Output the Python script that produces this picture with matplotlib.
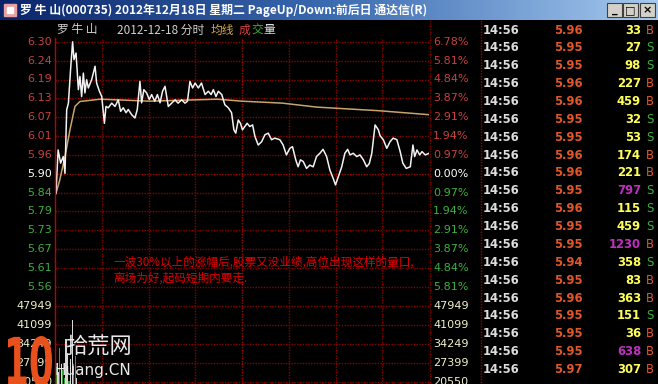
import matplotlib
matplotlib.use('Agg')
import numpy as np
import matplotlib.pyplot as plt
from matplotlib.patches import Rectangle, PathPatch
from matplotlib.textpath import TextPath
from matplotlib.font_manager import FontProperties
from matplotlib.transforms import Affine2D

CJK = ['Noto Sans CJK SC', 'DejaVu Sans']

# --- data ---
prev_close = 5.90
pct_step = 0.9686  # percent per grid row

price_min = [0.6, 2, 3.6, 5.3, 6.4, 7.5, 8.6, 10, 11.3, 12.2, 13.5, 15, 16, 17.1, 18.2, 19.2,
             20.3, 21.4, 23.5, 25.7, 26.7, 28.5, 30, 31.7, 32.7, 34.2, 36.4, 38.5, 40.6, 42.1,
             43.8, 45.6, 47, 49.2, 51.3, 52.8, 54.5, 55.6, 57, 58.8, 60.5, 62, 64, 65.7, 67.4,
             69, 70.6, 72.7, 74.9, 77, 79, 81.3, 83.4, 85, 86.6, 88.3, 89.9, 92, 94, 96.3, 98.4,
             100.2, 101.6, 103.3, 104.8, 107, 109, 111.2, 113.3, 114.8, 116, 117.6, 119, 120.3,
             121.8, 123.3, 125, 126.8, 128.3, 130.4, 132.6, 134.7, 136.8, 139, 141, 144.3, 146.4,
             148.5, 150.7, 152.4, 154.5, 156, 157.5, 159.3, 161.4, 163.5, 165.7, 167.8, 170, 172,
             174.3, 176.4, 178.5, 180, 181.8, 184, 186, 187.8, 189.3, 191.4, 193.6, 195.7, 197.9,
             200, 201.7, 203.3, 205.4, 207.5, 208.6, 210.7, 212.9, 215, 217, 219.4, 221.5, 223.2,
             225.4, 228, 229.7, 230.8, 232.3, 234, 235.5, 237.6, 240]
price_val = [5.84, 5.972, 5.932, 5.952, 5.901, 6.094, 6.114, 6.216, 6.30, 6.246, 6.266, 6.155,
             6.195, 6.134, 6.205, 6.145, 6.185, 6.16, 6.185, 6.226, 6.175, 6.15, 6.134, 6.053,
             6.104, 6.10, 6.114, 6.104, 6.124, 6.089, 6.10, 6.085, 6.095, 6.079, 6.069, 6.095,
             6.18, 6.115, 6.155, 6.145, 6.125, 6.14, 6.12, 6.14, 6.115, 6.15, 6.165, 6.104, 6.114,
             6.124, 6.114, 6.124, 6.114, 6.12, 6.18, 6.16, 6.175, 6.16, 6.175, 6.14, 6.15, 6.14,
             6.155, 6.134, 6.15, 6.14, 6.109, 6.10, 6.085, 6.033, 6.023, 6.063, 6.053, 6.033,
             6.043, 6.053, 6.043, 6.048, 6.013, 5.987, 5.997, 6.018, 6.023, 6.003, 6.008, 6.003,
             5.987, 5.957, 5.977, 5.982, 5.942, 5.921, 5.942, 5.937, 5.916, 5.926, 5.921, 5.952,
             5.962, 5.974, 5.952, 5.911, 5.886, 5.866, 5.891, 5.921, 5.962, 5.974, 5.957, 5.962,
             5.952, 5.957, 5.942, 5.921, 5.931, 5.962, 6.048, 6.033, 6.015, 6.003, 5.977, 5.997,
             6.008, 6.003, 5.967, 5.932, 5.916, 5.921, 5.987, 5.952, 5.972, 5.957, 5.967, 5.957,
             5.962]

avg_min = [0.6, 3, 6.4, 9.6, 12.8, 16, 29, 61, 104, 120, 146, 168, 208, 240]
avg_val = [5.84, 5.88, 5.952, 6.033, 6.104, 6.119, 6.126, 6.12, 6.126, 6.12, 6.114, 6.102,
           6.091, 6.079]

vol_ticks = [47949, 41099, 34249, 27399, 20550]
vol_min = [0, 1, 2, 3, 4, 5, 6, 7, 8, 9, 10, 11, 12, 13, 14]
vol_val = [30000, 26000, 24000, 33000, 27000, 25000, 22000, 36000, 31000, 21000, 29000,
           43000, 27000, 30000, 22000]
vol_dir = [1, -1, 1, -1, 1, -1, -1, 1, 1, -1, 1, 1, -1, -1, 1]

tick_time = ['14:56'] * 20
tick_price = ['5.96', '5.95', '5.95', '5.96', '5.96', '5.95', '5.95', '5.96', '5.96', '5.95',
              '5.96', '5.95', '5.95', '5.94', '5.95', '5.96', '5.95', '5.95', '5.95', '5.97']
tick_vol = [33, 27, 98, 227, 459, 32, 53, 174, 221, 797, 115, 459, 1230, 358, 83, 363, 151,
            36, 638, 307]
tick_side = ['B', 'S', 'S', 'B', 'B', 'S', 'S', 'B', 'B', 'S', 'S', 'S', 'B', 'S', 'B', 'B',
             'S', 'B', 'B', 'B']

title = '罗 牛 山(000735) 2012年12月18日 星期二 PageUp/Down:前后日 通达信(R)'
note = ['一波30%以上的涨幅后,股票又没业绩,高位出现这样的量口,', '离场为好,起码短期内要走.']

# --- layout ---
W, H = 658, 384
RED = '#c84040'
GREEN = '#3cb03c'
GRID = '#8c0000'

fig = plt.figure(figsize=(W / 100, H / 100), dpi=100, facecolor='black')


def box(x0, y0, x1, y1):
    return [x0 / W, 1 - y1 / H, (x1 - x0) / W, (y1 - y0) / H]


step = prev_close * pct_step / 100
px_per_price = 18.84 / step
p_top = prev_close + (173.7 - 38) / px_per_price
p_bot = prev_close - (296 - 173.7) / px_per_price

ax = fig.add_axes(box(55, 38, 429, 296))
ax.set_xlim(0, 240)
ax.set_ylim(p_bot, p_top)
ax.axis('off')

vstep = vol_ticks[0] - vol_ticks[1]
vpp = vstep / 18.84
vax = fig.add_axes(box(55, 296, 429, 384))
vax.set_xlim(0, 240)
vax.set_ylim(vol_ticks[-1] - (384 - 381.8) * vpp, vol_ticks[0] + (306.4 - 296) * vpp)
vax.axis('off')

dots = (0, (1, 1))
levels = np.arange(-7, 8)
for k in levels:
    p = prev_close + k * step
    if p_bot < p < p_top:
        ax.axhline(p, color='#a00808' if k == 0 else GRID, lw=1, ls=dots, zorder=1)
for v in vol_ticks:
    vax.axhline(v, color=GRID, lw=1, ls=dots, zorder=1)
for m in range(30, 241, 30):
    for a in (ax, vax):
        a.axvline(m, color='#a00808' if m == 120 else GRID, lw=1, ls=dots, zorder=1)

ax.plot(avg_min, avg_val, color='#c8a46c', lw=1.1, zorder=3)
ax.plot(price_min, price_val, color='#f2f2f2', lw=1.1, zorder=4)
vax.bar(vol_min, vol_val, width=0.8,
        color=['#d8d8d8' if d > 0 else '#3ca03c' for d in vol_dir], zorder=2)

# axis labels
lx = -3 / 374
rx = 1 + 4 / 374
for k in levels:
    p = prev_close + k * step
    if not (p_bot < p < p_top):
        continue
    c = RED if k > 0 else (GREEN if k < 0 else 'white')
    ax.text(lx, p, f'{p:.2f}', transform=ax.get_yaxis_transform(), ha='right',
            va='center', color=c, fontsize=8, family='DejaVu Sans')
    ax.text(rx, p, f'{abs(k) * pct_step:.2f}%', transform=ax.get_yaxis_transform(),
            ha='left', va='center', color=c, fontsize=8, family='DejaVu Sans')
for v in vol_ticks:
    for xx, ha in ((lx, 'right'), (rx, 'left')):
        vax.text(xx, v, str(v), transform=vax.get_yaxis_transform(), ha=ha, va='center',
                 color='#f0f0c8', fontsize=8, family='DejaVu Sans')

# overlay in pixel coordinates
ov = fig.add_axes([0, 0, 1, 1], zorder=10)
ov.set_xlim(0, W)
ov.set_ylim(H, 0)
ov.axis('off')
ov.patch.set_alpha(0)

ov.plot([55, 55], [38, 384], color='#c00000', lw=1)
ov.plot([429.5, 429.5], [20, 384], color=GRID, lw=1, ls=dots)
ov.plot([480.5, 480.5], [20, 384], color='#a00000', lw=1, ls=dots)

# title bar
grad = np.linspace(0, 1, 256)[None, :]
tb = fig.add_axes(box(0, 0, W, 20), zorder=9)
tb.imshow(grad, aspect='auto', cmap=matplotlib.colors.LinearSegmentedColormap.from_list(
    'tb', ['#0a246a', '#3a6ab0', '#a6caf0']), extent=(0, 1, 0, 1))
tb.axis('off')
ov.add_patch(Rectangle((4, 4), 12, 12, color='#e8a0a0'))
ov.add_patch(Rectangle((7, 7), 6, 6, color='#ffffff'))
ov.text(20, 10.5, title, color='white', fontsize=8.6, fontweight='bold', family=CJK,
        ha='left', va='center')
for x0, sym in ((607, '_'), (623, '□'), (640, '×')):
    ov.add_patch(Rectangle((x0, 3), 15, 14, facecolor='#d4d0c8', edgecolor='#404040', lw=0.8))
    ov.text(x0 + 7.5, 10, sym, ha='center', va='center', fontsize=8, color='black',
            fontweight='bold', family=['DejaVu Sans'])

# chart subtitle
sub_y = 30
ov.text(57, sub_y, '罗 牛 山', color='#d0d0d0', fontsize=8.5, family=CJK, va='center')
ov.text(117, sub_y, '2012-12-18 分时', color='#d0d0d0', fontsize=8.5, family=CJK, va='center')
ov.text(211, sub_y, '均线', color='#d4a848', fontsize=8.5, family=CJK, va='center')
ov.text(239, sub_y, '成', color='#d04040', fontsize=8.5, family=CJK, va='center')
ov.text(251, sub_y, '交', color=GREEN, fontsize=8.5, family=CJK, va='center')
ov.text(263, sub_y, '量', color='#e0e0e0', fontsize=8.5, family=CJK, va='center')

# annotation
ov.text(113, 262, note[0], color='#e00000', fontsize=8.4, family=CJK, va='center')
ov.text(113, 278, note[1], color='#e00000', fontsize=8.4, family=CJK, va='center')

# tick list
for i in range(len(tick_time)):
    y = 30 + i * 17.87
    ov.text(483, y, tick_time[i], color='#dcdcdc', fontsize=8.4, fontweight='bold',
            ha='left', va='center', family='DejaVu Sans')
    ov.text(583, y, tick_price[i], color='#e0582a', fontsize=8.4, fontweight='bold',
            ha='right', va='center', family='DejaVu Sans')
    vc = '#c030c0' if tick_vol[i] >= 600 else '#ffff5a'
    ov.text(641, y, str(tick_vol[i]), color=vc, fontsize=8.4, fontweight='bold',
            ha='right', va='center', family='DejaVu Sans')
    sc = '#e0582a' if tick_side[i] == 'B' else GREEN
    ov.text(646, y, tick_side[i], color=sc, fontsize=8.4, ha='left', va='center',
            family='DejaVu Sans')

# watermark
tp = TextPath((0, 0), '10', size=1, prop=FontProperties(family='DejaVu Sans', weight='bold'))
ext = tp.get_extents()
sx, sy = 44 / ext.width, 50 / ext.height
tr = Affine2D().translate(-ext.x0, -ext.y0).scale(sx, -sy).translate(8, 386)
ov.add_patch(PathPatch(tr.transform_path(tp), facecolor='#e8501c', edgecolor='none'))
ov.text(65, 347, '拾荒网', color='#e8e8e8', fontsize=16, family=CJK, va='center')
ov.text(55, 371, 'Huang.CN', color='#e8e8e8', fontsize=11, family='DejaVu Sans', va='center')

fig.savefig('out.png', dpi=100, facecolor='black')
